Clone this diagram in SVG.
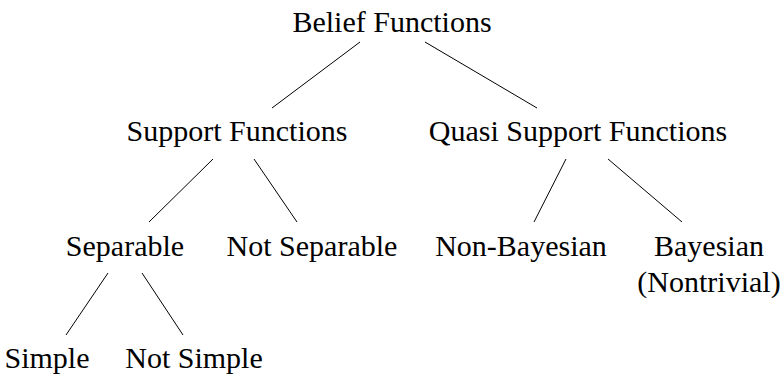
<svg xmlns="http://www.w3.org/2000/svg" width="784" height="374" viewBox="0 0 784 374">
<style>
text{font-family:"Liberation Serif","Times New Roman",serif;font-size:30px;fill:#000;text-anchor:middle}
line{stroke:#000;stroke-width:1}
</style>
<rect width="784" height="374" fill="#fff"/>
<g id="connectors">
<line x1="360" y1="42" x2="272" y2="108"/>
<line x1="425" y1="42" x2="537" y2="108"/>
<line x1="213" y1="159" x2="149" y2="222"/>
<line x1="254" y1="159" x2="297" y2="222"/>
<line x1="566" y1="159" x2="534" y2="222"/>
<line x1="608" y1="159" x2="682" y2="222"/>
<line x1="108" y1="273" x2="66" y2="335"/>
<line x1="142" y1="273" x2="183" y2="335"/>
</g>
<g id="belief"><text x="392" y="32">Belief Functions</text></g>
<g id="support"><text x="237" y="141">Support Functions</text></g>
<g id="quasi"><text x="578" y="141">Quasi Support Functions</text></g>
<g id="separable"><text x="125" y="256">Separable</text></g>
<g id="notseparable"><text x="312" y="256">Not Separable</text></g>
<g id="nonbayesian"><text x="521" y="256">Non-Bayesian</text></g>
<g id="bayesian"><text x="709" y="256">Bayesian</text><text x="709" y="292">(Nontrivial)</text></g>
<g id="simple"><text x="47" y="368">Simple</text></g>
<g id="notsimple"><text x="194" y="368">Not Simple</text></g>
</svg>
